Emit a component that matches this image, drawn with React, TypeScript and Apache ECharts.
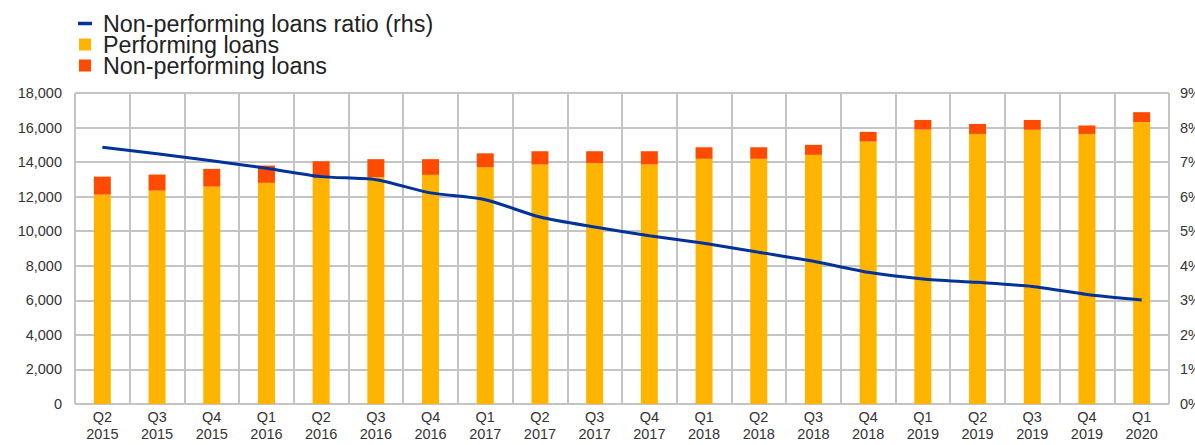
import React, { useEffect, useRef } from "react";
import * as echarts from "echarts";

const categories = [
  "Q2\n2015", "Q3\n2015", "Q4\n2015", "Q1\n2016", "Q2\n2016", "Q3\n2016", "Q4\n2016",
  "Q1\n2017", "Q2\n2017", "Q3\n2017", "Q4\n2017", "Q1\n2018", "Q2\n2018", "Q3\n2018",
  "Q4\n2018", "Q1\n2019", "Q2\n2019", "Q3\n2019", "Q4\n2019", "Q1\n2020",
];

const performingLoans = [
  12120, 12350, 12580, 12800, 13085, 13125, 13260, 13700, 13860, 13950,
  13860, 14190, 14190, 14420, 15190, 15880, 15630, 15870, 15630, 16310,
];

const nonPerformingLoans = [
  1040, 930, 1030, 1000, 965, 1045, 910, 810, 770, 680,
  770, 670, 670, 580, 560, 560, 580, 570, 490, 580,
];

const nplRatio = [
  7.43, 7.24, 7.04, 6.82, 6.58, 6.49, 6.11, 5.91, 5.41, 5.12,
  4.87, 4.65, 4.39, 4.13, 3.81, 3.62, 3.52, 3.4, 3.17, 3.01,
];

const leftTicks = { min: 0, max: 18000, interval: 2000 };
const rightTicks = { min: 0, max: 9, interval: 1 };

const FONT = "'Liberation Sans', Arial, sans-serif";
const GRID = "#C4C4C4";

export default function App() {
  const ref = useRef<HTMLDivElement>(null);

  useEffect(() => {
    if (!ref.current) return;
    const chart = echarts.init(ref.current, undefined, { renderer: "svg" });
    chart.setOption({
      animation: false,
      textStyle: { fontFamily: FONT },
      legend: {
        orient: "vertical",
        left: 73,
        top: 7,
        itemWidth: 14,
        itemHeight: 12,
        itemGap: -2,
        symbolKeepAspect: true,
        textStyle: {
          fontFamily: FONT,
          fontSize: 23.3,
          color: "#222",
          padding: [0, 0, 0, 6],
        },
        data: [
          { name: "Non-performing loans ratio (rhs)", icon: "path://M0,0h14v3.5h-14z" },
          { name: "Performing loans", icon: "path://M0,0h12v12h-12z" },
          { name: "Non-performing loans", icon: "path://M0,0h12v12h-12z" },
        ],
      },
      grid: {
        left: 75,
        right: 26,
        top: 93,
        bottom: 41,
        containLabel: false,
        outerBoundsMode: "none",
      },
      xAxis: {
        type: "category",
        data: categories,
        boundaryGap: true,
        axisTick: { show: false },
        axisLine: { show: false },
        axisLabel: {
          interval: 0,
          fontFamily: FONT,
          fontSize: 14.5,
          color: "#333",
          lineHeight: 17,
          margin: 4,
        },
        splitLine: { show: true, interval: 0, lineStyle: { color: GRID, width: 2 } },
      },
      yAxis: [
        {
          type: "value",
          ...leftTicks,
          axisLine: { show: false },
          axisTick: { show: false },
          axisLabel: {
            fontFamily: FONT,
            fontSize: 14.5,
            color: "#333",
            margin: 13,
            formatter: (v: number) => v.toLocaleString("en-US"),
          },
          splitLine: { show: true, lineStyle: { color: GRID, width: 2 } },
        },
        {
          type: "value",
          ...rightTicks,
          position: "right",
          axisLine: { show: false },
          axisTick: { show: false },
          axisLabel: {
            fontFamily: FONT,
            fontSize: 14.5,
            color: "#333",
            margin: 11,
            formatter: "{value}%",
          },
          splitLine: { show: false },
        },
      ],
      series: [
        {
          name: "Performing loans",
          type: "bar",
          stack: "loans",
          barWidth: 17,
          itemStyle: { color: "#FFB400" },
          data: performingLoans,
        },
        {
          name: "Non-performing loans",
          type: "bar",
          stack: "loans",
          barWidth: 17,
          itemStyle: { color: "#FF4B00" },
          data: nonPerformingLoans,
        },
        {
          name: "Non-performing loans ratio (rhs)",
          type: "line",
          yAxisIndex: 1,
          smooth: 0.25,
          showSymbol: false,
          symbol: "none",
          z: 5,
          lineStyle: { color: "#003299", width: 3 },
          itemStyle: { color: "#003299" },
          data: nplRatio,
        },
      ],
    });
    return () => chart.dispose();
  }, []);

  return (
    <div
      ref={ref}
      style={{ position: "fixed", left: 0, top: 0, width: 1195, height: 445, background: "#fff" }}
    />
  );
}
